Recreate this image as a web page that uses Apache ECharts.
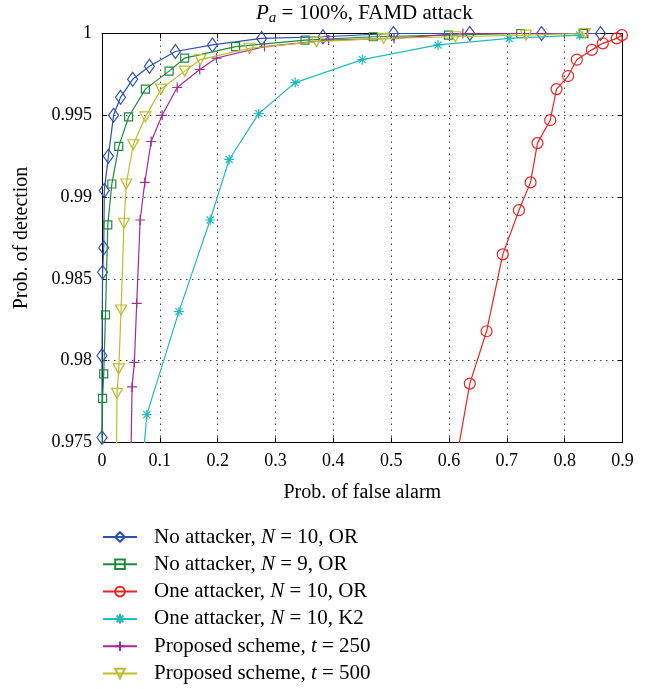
<!DOCTYPE html>
<html>
<head>
<meta charset="utf-8">
<script src="https://cdn.jsdelivr.net/npm/echarts@6/dist/echarts.min.js"></script>
<style>html,body{margin:0;padding:0;background:#fff}#c{width:654px;height:689px}</style>
</head>
<body>
<div id="c"></div>
<script>
// ---- data (x = prob. of false alarm, y = prob. of detection) ----
const noAttackerN10 = [[0.000,0.9753],[0.000,0.9803],[0.001,0.9854],[0.003,0.9869],[0.004,0.9904],[0.011,0.9925],[0.020,0.9950],[0.032,0.9961],[0.053,0.9972],[0.082,0.9980],[0.127,0.9989],[0.191,0.9993],[0.276,0.9997],[0.382,0.9998],[0.504,1.0],[0.636,1.0],[0.760,1.0],[0.862,1.0]];
const noAttackerN9 = [[0.000,0.974],[0.001,0.9777],[0.003,0.9792],[0.006,0.9828],[0.010,0.9883],[0.017,0.9908],[0.029,0.9931],[0.046,0.9949],[0.075,0.9966],[0.116,0.9977],[0.143,0.9985],[0.231,0.9992],[0.351,0.9996],[0.469,0.9998],[0.599,0.9999],[0.724,1.0],[0.832,1.0]];
const oneAttackerOR = [[0.613,0.974],[0.636,0.9786],[0.665,0.9818],[0.693,0.9865],[0.721,0.9892],[0.741,0.9909],[0.753,0.9933],[0.775,0.9947],[0.786,0.9966],[0.806,0.9974],[0.821,0.9984],[0.847,0.9990],[0.866,0.9994],[0.890,0.9997],[0.899,0.9999]];
const oneAttackerK2 = [[0.071,0.974],[0.0775,0.9767],[0.133,0.9830],[0.187,0.9886],[0.220,0.9923],[0.271,0.9951],[0.334,0.9970],[0.450,0.9984],[0.581,0.9993],[0.704,0.9997],[0.826,0.9999]];
const proposedT250 = [[0.050,0.974],[0.052,0.9784],[0.056,0.9799],[0.060,0.9835],[0.066,0.9886],[0.074,0.9909],[0.085,0.9934],[0.104,0.9950],[0.130,0.9967],[0.169,0.9978],[0.198,0.9985],[0.281,0.9992],[0.392,0.9996],[0.505,0.9997],[0.624,1.0],[0.840,1.0]];
const proposedT500 = [[0.025,0.974],[0.026,0.9780],[0.029,0.9795],[0.033,0.9831],[0.038,0.9884],[0.042,0.9908],[0.054,0.9932],[0.075,0.9949],[0.102,0.9966],[0.143,0.9977],[0.170,0.9984],[0.255,0.9991],[0.371,0.9995],[0.487,0.9997],[0.611,0.9998],[0.733,0.9999],[0.835,1.0]];

const seriesNames = ['No attacker, N = 10, OR','No attacker, N = 9, OR','One attacker, N = 10, OR','One attacker, N = 10, K2','Proposed scheme, t = 250','Proposed scheme, t = 500'];
const xTickLabels = ['0','0.1','0.2','0.3','0.4','0.5','0.6','0.7','0.8','0.9'];
const yTickLabels = ['0.975','0.98','0.985','0.99','0.995','1'];

const FONT = '"Liberation Serif", "Times New Roman", serif';
const colors = ['#2F4FB0','#1F8A3A','#EE2222','#22BBBB','#A02C96','#BDBD2A'];
const symbols = ['diamond','rect','circle',
  'path://M5,0L5,10M0,5L10,5M1.5,1.5L8.5,8.5M1.5,8.5L8.5,1.5',
  'path://M5,0L5,10M0,5L10,5',
  'path://M0,0L10,0L5,9Z'];
const sizes = [[10,14],8,11,10,10,[11,10]];
const datas = [noAttackerN10,noAttackerN9,oneAttackerOR,oneAttackerK2,proposedT250,proposedT500];

const series = datas.map((d,i)=>({
  name: seriesNames[i],
  type: 'line',
  data: d,
  clip: true,
  symbol: symbols[i],
  symbolSize: sizes[i],
  showAllSymbol: true,
  lineStyle: {color: colors[i], width: 1.2},
  itemStyle: {color: 'rgba(0,0,0,0)', borderColor: colors[i], borderWidth: 1.2},
  emphasis: {disabled: true},
  z: 2 + i
}));

function legendFmt(name){
  return name.replace(/ (N|t) = /, ' {i|$1} = ');
}

const chart = echarts.init(document.getElementById('c'), null, {renderer:'canvas'});
chart.setOption({
  animation: false,
  backgroundColor: '#fff',
  title: {
    text: '{p|P}{a|a}{n| = 100%, FAMD attack}',
    left: 256, top: 0, padding: 0,
    textStyle: {
      fontWeight: 'normal',
      rich: {
        p: {fontFamily: FONT, fontSize: 21, fontStyle: 'italic', fontWeight: 'normal', color: '#000', lineHeight: 26},
        a: {fontFamily: FONT, fontSize: 15, fontStyle: 'italic', fontWeight: 'normal', color: '#000', lineHeight: 12, verticalAlign: 'bottom'},
        n: {fontFamily: FONT, fontSize: 21, fontWeight: 'normal', color: '#000', lineHeight: 26}
      }
    }
  },
  grid: {left: 102, right: 31.5, top: 33.5, bottom: 246.5, containLabel: false},
  legend: {
    orient: 'vertical',
    left: 102, top: 526, height: 175, padding: 0,
    itemWidth: 34, itemHeight: 12, itemGap: 5.3,
    data: seriesNames,
    formatter: legendFmt,
    textStyle: {
      fontFamily: FONT, fontSize: 21, color: '#000', lineHeight: 22,
      padding: [0,0,0,12],
      rich: {
        i: {fontFamily: FONT, fontSize: 21, fontStyle: 'italic', color: '#000', lineHeight: 22}
      }
    }
  },
  xAxis: [{
    type: 'value', min: 0, max: 0.9, interval: 0.1,
    name: 'Prob. of false alarm', nameLocation: 'middle', nameGap: 40,
    nameTextStyle: {fontFamily: FONT, fontSize: 20, color: '#000'},
    axisLine: {show: true, onZero: false, lineStyle: {color: '#000', width: 1}},
    axisTick: {show: true, inside: true, length: 5, lineStyle: {color: '#000'}},
    axisLabel: {fontFamily: FONT, fontSize: 18, color: '#000', margin: 10,
      formatter: (v)=> xTickLabels[Math.round(v*10)]},
    splitLine: {show: true, lineStyle: {color: '#444', width: 1, type: [1.5,4.5]}}
  },{
    type: 'value', min: 0, max: 0.9, interval: 0.1, position: 'top',
    axisLine: {show: true, onZero: false, lineStyle: {color: '#000', width: 1}},
    axisTick: {show: true, inside: true, length: 5, lineStyle: {color: '#000'}},
    axisLabel: {show: false}, splitLine: {show: false}
  }],
  yAxis: [{
    type: 'value', min: 0.975, max: 1, interval: 0.005,
    name: 'Prob. of detection', nameLocation: 'middle', nameGap: 70,
    nameTextStyle: {fontFamily: FONT, fontSize: 20, color: '#000'},
    axisLine: {show: true, onZero: false, lineStyle: {color: '#000', width: 1}},
    axisTick: {show: true, inside: true, length: 5, lineStyle: {color: '#000'}},
    axisLabel: {fontFamily: FONT, fontSize: 18, color: '#000', margin: 10,
      formatter: (v)=> yTickLabels[Math.round((v-0.975)/0.005)]},
    splitLine: {show: true, lineStyle: {color: '#444', width: 1, type: [1.5,4.5]}}
  },{
    type: 'value', min: 0.975, max: 1, interval: 0.005, position: 'right',
    axisLine: {show: true, onZero: false, lineStyle: {color: '#000', width: 1}},
    axisTick: {show: true, inside: true, length: 5, lineStyle: {color: '#000'}},
    axisLabel: {show: false}, splitLine: {show: false}
  }],
  series: series
});
</script>
</body>
</html>
